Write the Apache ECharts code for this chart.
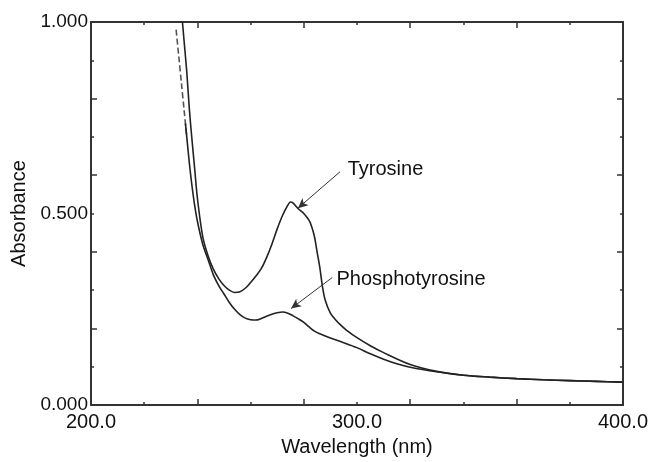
<!DOCTYPE html>
<html>
<head>
<meta charset="utf-8">
<script src="https://cdn.jsdelivr.net/npm/echarts@6/dist/echarts.min.js"></script>
<style>
  html, body { margin: 0; padding: 0; background: #fff; }
  #chart { width: 652px; height: 462px; }
</style>
</head>
<body>
<div id="chart"></div>
<script>
// absorbance spectra
const tyrWl = [234, 235, 236, 237, 238, 239, 240, 242, 244, 246, 248, 250, 252, 254, 256, 258, 260, 262, 264, 266, 268, 270, 272, 274, 275, 276, 278, 280, 282, 283, 284, 285, 286, 287, 288, 290, 292, 294, 296, 300, 305, 310, 320, 330, 340, 350, 360, 370, 380, 390, 400];
const tyrAbs = [1.03, 0.95, 0.87, 0.77, 0.69, 0.615, 0.54, 0.44, 0.39, 0.355, 0.33, 0.312, 0.3, 0.294, 0.296, 0.305, 0.32, 0.337, 0.356, 0.385, 0.42, 0.46, 0.495, 0.522, 0.53, 0.527, 0.512, 0.5, 0.482, 0.465, 0.44, 0.4, 0.36, 0.31, 0.275, 0.24, 0.222, 0.208, 0.196, 0.176, 0.155, 0.137, 0.106, 0.088, 0.078, 0.073, 0.069, 0.066, 0.064, 0.062, 0.06];

// first part of the phosphotyrosine trace is drawn dashed
const phosDashWl = [232, 233, 234, 235, 236];
const phosDashAbs = [0.98, 0.91, 0.84, 0.77, 0.70];
const phosWl = [235.5, 236, 237, 238, 239, 240, 242, 244, 246, 248, 250, 252, 254, 256, 258, 260, 262, 264, 266, 268, 270, 272, 274, 276, 278, 280, 282, 284, 286, 290, 295, 300, 305, 310, 315, 320, 330, 340, 350, 360, 370, 380, 390, 400];
const phosAbs = [0.735, 0.70, 0.63, 0.57, 0.52, 0.48, 0.42, 0.38, 0.34, 0.312, 0.29, 0.268, 0.25, 0.236, 0.227, 0.223, 0.222, 0.226, 0.232, 0.237, 0.241, 0.243, 0.24, 0.233, 0.225, 0.216, 0.204, 0.193, 0.186, 0.175, 0.163, 0.15, 0.134, 0.12, 0.108, 0.099, 0.087, 0.078, 0.073, 0.069, 0.066, 0.064, 0.062, 0.06];

const xLabels = [200, 300, 400];
const yLabels = [0, 0.5, 1];

// annotation: text position, arrow start, arrow tip (data units)
const tyrNote = { text: 'Tyrosine', at: [296.5, 0.614], from: [293.6, 0.609], to: [277.8, 0.514] };
const phosNote = { text: 'Phosphotyrosine', at: [292.3, 0.327], from: [290.7, 0.333], to: [275.2, 0.252] };

const font = 'Liberation Sans, Arial, sans-serif';
const fs = 20;
const ink = '#222';
const axisCol = '#333';

const pairs = (xs, ys) => xs.map((x, i) => [x, ys[i]]);

const chart = echarts.init(document.getElementById('chart'));

const tickAxis = (pos, min, max, interval) => ({
  type: 'value',
  position: pos,
  min: min,
  max: max,
  interval: interval,
  axisLine: { show: true, onZero: false, lineStyle: { color: axisCol, width: 2 } },
  axisTick: { show: true, inside: true, length: 6, lineStyle: { color: axisCol, width: 1.5 } },
  minorTick: { show: true, splitNumber: 2, length: 3, lineStyle: { color: axisCol, width: 1.5 } },
  axisLabel: { show: false },
  splitLine: { show: false }
});

const labelAxis = (pos, min, max, interval, extra) => Object.assign({
  type: 'value',
  position: pos,
  min: min,
  max: max,
  interval: interval,
  axisLine: { show: false },
  axisTick: { show: false },
  splitLine: { show: false }
}, extra);

const noteSeries = (note) => ({
  type: 'line',
  data: [],
  silent: true,
  markLine: {
    silent: true,
    symbol: ['none', 'arrow'],
    symbolSize: [7, 10],
    lineStyle: { color: axisCol, width: 1, type: 'solid' },
    label: { show: false },
    data: [[{ coord: note.from }, { coord: note.to }]]
  },
  markPoint: {
    silent: true,
    symbol: 'circle',
    symbolSize: 0,
    label: { show: true, position: 'right', distance: 0, formatter: note.text, color: '#111', fontFamily: font, fontSize: fs },
    data: [{ coord: note.at }]
  }
});

const option = {
  animation: false,
  backgroundColor: '#fff',
  grid: { left: 91, right: 29, top: 22, bottom: 49 },
  xAxis: [
    tickAxis('bottom', 200, 400, 40),
    tickAxis('top', 200, 400, 40),
    labelAxis('bottom', 200, 400, 100, {
      name: 'Wavelength (nm)',
      nameLocation: 'middle',
      nameGap: 29,
      nameTextStyle: { color: '#111', fontFamily: font, fontSize: fs },
      axisLabel: { show: true, color: '#111', fontFamily: font, fontSize: fs, margin: 7,
        formatter: v => xLabels.includes(v) ? v.toFixed(1) : '' }
    })
  ],
  yAxis: [
    tickAxis('left', 0, 1, 0.2),
    tickAxis('right', 0, 1, 0.2),
    labelAxis('left', 0, 1, 0.5, {
      name: 'Absorbance',
      nameLocation: 'middle',
      nameRotate: 90,
      nameGap: 60,
      nameTextStyle: { color: '#111', fontFamily: font, fontSize: fs },
      axisLabel: { show: true, color: '#111', fontFamily: font, fontSize: fs - 1, margin: 3,
        formatter: v => yLabels.includes(v) ? v.toFixed(3) : '' }
    })
  ],
  series: [
    {
      name: 'Tyrosine',
      type: 'line',
      data: pairs(tyrWl, tyrAbs),
      showSymbol: false,
      smooth: 0.3,
      clip: true,
      lineStyle: { color: ink, width: 1.6 }
    },
    {
      name: 'Phosphotyrosine (dashed)',
      type: 'line',
      data: pairs(phosDashWl, phosDashAbs),
      showSymbol: false,
      smooth: 0.3,
      lineStyle: { color: '#555', width: 1.6, type: [6, 3] }
    },
    {
      name: 'Phosphotyrosine',
      type: 'line',
      data: pairs(phosWl, phosAbs),
      showSymbol: false,
      smooth: 0.3,
      lineStyle: { color: ink, width: 1.6 }
    },
    noteSeries(tyrNote),
    noteSeries(phosNote)
  ]
};

chart.setOption(option);
</script>
</body>
</html>
